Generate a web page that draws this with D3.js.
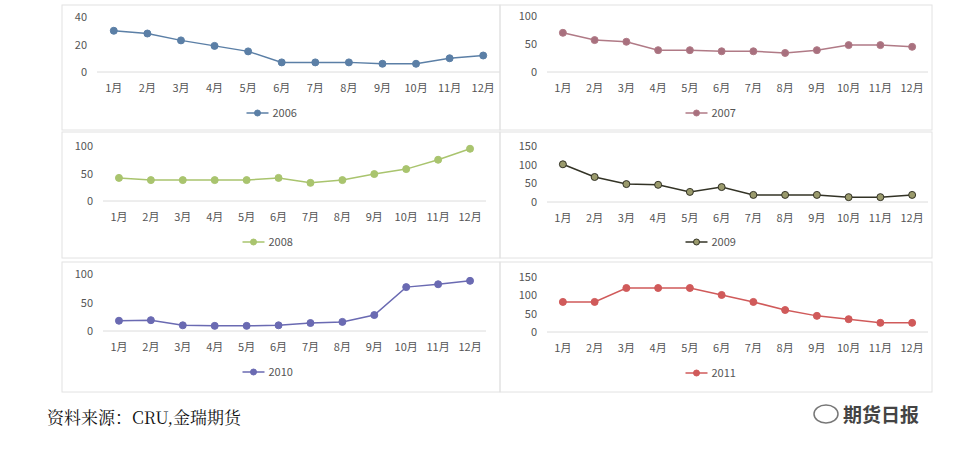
<!DOCTYPE html><html><head><meta charset="utf-8"><script src="https://cdn.jsdelivr.net/npm/d3@7"></script>
<style>body{margin:0;background:#fff}svg{font-family:"Noto Sans CJK SC","Noto Sans",sans-serif}</style></head><body><svg id="c" width="974" height="455"></svg><script>
const months=["1月","2月","3月","4月","5月","6月","7月","8月","9月","10月","11月","12月"];
const s2006=[30,28,23,19,15,7,7,7,6,6,10,12];
const s2007=[70,57,54,39,39,37,37,34,39,48,48,45];
const s2008=[42,38,38,38,38,42,33,38,49,58,75,95];
const s2009=[101,67,48,46,27,40,19,19,19,13,13,19];
const s2010=[18,19,10,9,9,10,14,16,28,77,82,88];
const s2011=[82,82,120,120,120,101,82,60,44,35,25,25];
const ticks40=[0,20,40],ticks100=[0,50,100],ticks150=[0,50,100,150];
const svg=d3.select("#c");
const panels=[
 {name:"2006",data:s2006,ticks:ticks40,max:40,x0:97,x1:500,yTop:17,yBot:72,legY:113,stroke:"#5b7fa6",fill:"#5b7fa6",box:[62,5,500,130]},
 {name:"2007",data:s2007,ticks:ticks100,max:100,x0:547,x1:928,yTop:16,yBot:72,legY:113,stroke:"#b07a86",fill:"#a8707e",box:[500,5,932,130]},
 {name:"2008",data:s2008,ticks:ticks100,max:100,x0:103,x1:486,yTop:146,yBot:201,legY:242,stroke:"#a9c46e",fill:"#a9c46e",box:[62,132,500,258]},
 {name:"2009",data:s2009,ticks:ticks150,max:150,x0:547,x1:928,yTop:146,yBot:202,legY:242,stroke:"#333326",fill:"#9a9a6c",box:[500,132,932,258]},
 {name:"2010",data:s2010,ticks:ticks100,max:100,x0:103,x1:486,yTop:274,yBot:331,legY:372,stroke:"#6a6ab2",fill:"#6a6ab2",box:[62,262,500,392]},
 {name:"2011",data:s2011,ticks:ticks150,max:150,x0:547,x1:928,yTop:277,yBot:332,legY:373,stroke:"#d05a5a",fill:"#d05a5a",box:[500,262,932,392]}
];
panels.forEach(p=>{
 const g=svg.append("g");
 g.append("rect").attr("x",p.box[0]).attr("y",p.box[1]).attr("width",p.box[2]-p.box[0]).attr("height",p.box[3]-p.box[1]).attr("fill","none").attr("stroke","#e2e2e2");
 const x=d3.scaleBand().domain(months).range([p.x0,p.x1]);
 const y=d3.scaleLinear().domain([0,p.max]).range([p.yBot,p.yTop]);
 g.append("line").attr("x1",p.x0).attr("x2",p.x1).attr("y1",p.yBot).attr("y2",p.yBot).attr("stroke","#dcdcdc");
 p.ticks.forEach(t=>g.append("text").attr("x",p.x0-10).attr("y",y(t)+4).attr("text-anchor","end").attr("font-size",11).attr("fill","#555").text(t));
 months.forEach(m=>g.append("text").attr("x",x(m)+x.bandwidth()/2).attr("y",p.yBot+20).attr("text-anchor","middle").attr("font-size",11).attr("fill","#555").text(m));
 const cx=(d,i)=>x(months[i])+x.bandwidth()/2;
 g.append("path").attr("d",d3.line().x(cx).y(d=>y(d))(p.data)).attr("fill","none").attr("stroke",p.stroke).attr("stroke-width",1.5);
 g.selectAll("circle").data(p.data).join("circle").attr("cx",cx).attr("cy",d=>y(d)).attr("r",3.5).attr("fill",p.fill).attr("stroke",p.stroke).attr("stroke-width",1);
 const lx=(p.x0+p.x1)/2-30;
 g.append("line").attr("x1",lx-22).attr("x2",lx).attr("y1",p.legY).attr("y2",p.legY).attr("stroke",p.stroke).attr("stroke-width",1.5);
 g.append("circle").attr("cx",lx-11).attr("cy",p.legY).attr("r",3).attr("fill",p.fill).attr("stroke",p.stroke);
 g.append("text").attr("x",lx+4).attr("y",p.legY+4).attr("font-size",11).attr("fill","#555").text(p.name);
});
svg.append("text").attr("x",47).attr("y",424).attr("font-family","'Noto Serif CJK SC','Liberation Serif',serif").attr("font-size",17).attr("fill","#111").text("资料来源：CRU,金瑞期货");
svg.append("text").attr("x",843).attr("y",422).attr("font-size",19).attr("font-weight","bold").attr("fill","#444").text("期货日报");
svg.append("ellipse").attr("cx",826).attr("cy",414).attr("rx",12).attr("ry",9).attr("fill","none").attr("stroke","#777").attr("stroke-width",1.5);
</script></body></html>
